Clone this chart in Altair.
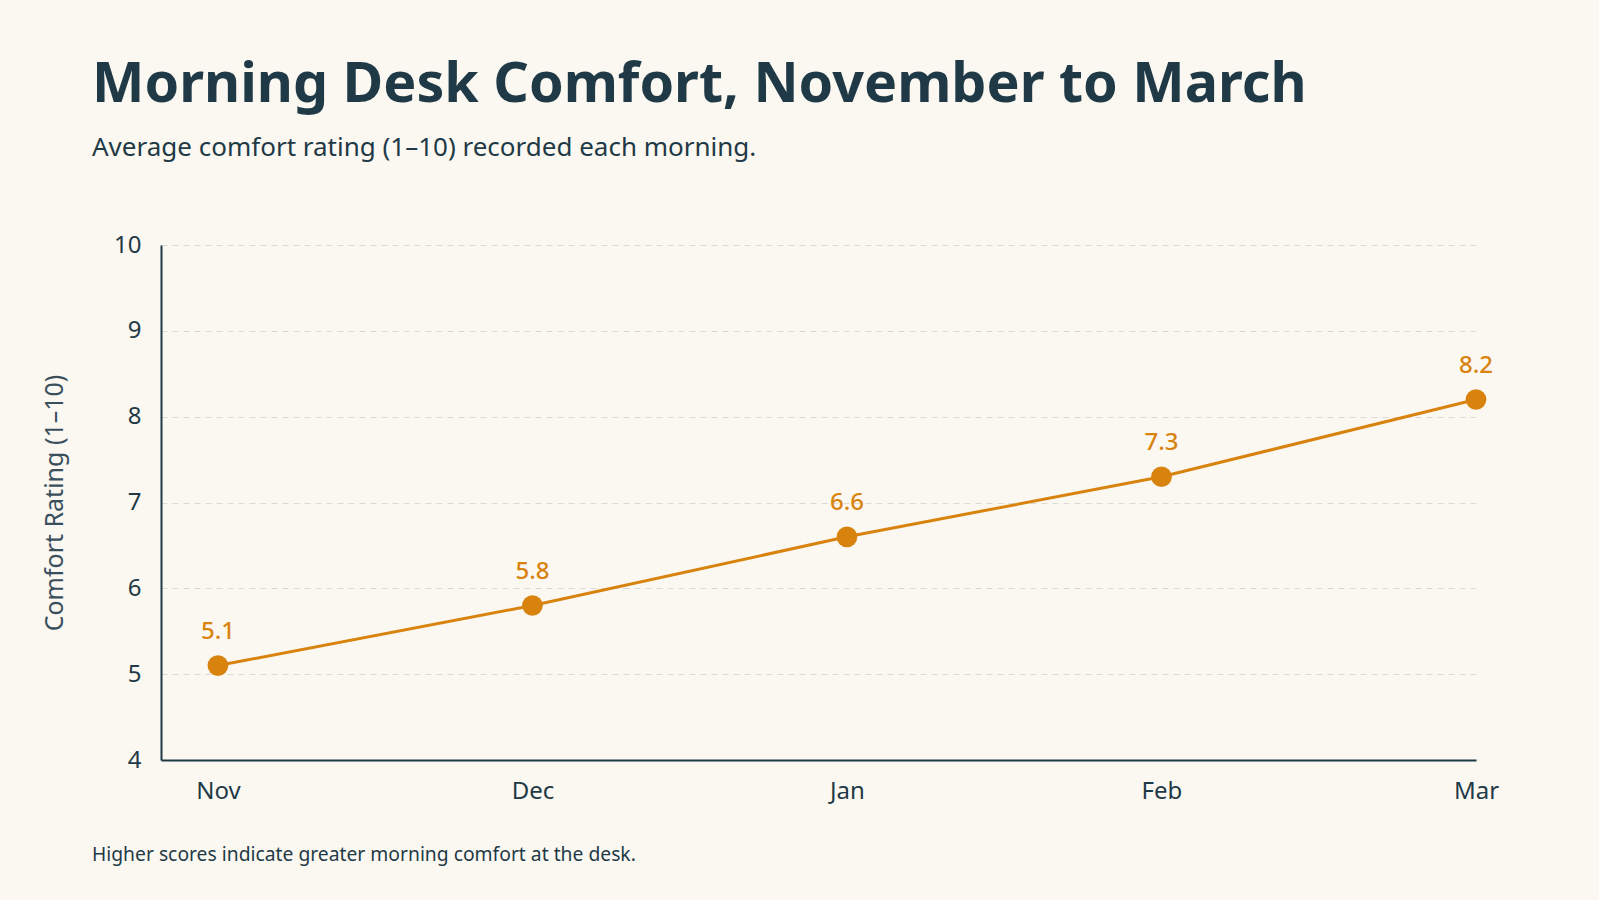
import json
import altair as alt
import pandas as pd

months = ["Nov", "Dec", "Jan", "Feb", "Mar"]
ratings = [5.1, 5.8, 6.6, 7.3, 8.2]
y_ticks = [4, 5, 6, 7, 8, 9, 10]

title_text = "Morning Desk Comfort, November to March"
subtitle_text = "Average comfort rating (1\u201310) recorded each morning."
footer_text = "Higher scores indicate greater morning comfort at the desk."
y_title = "Comfort Rating (1\u201310)"

df = pd.DataFrame({"month": months, "idx": list(range(len(months))), "rating": ratings})

FONT = "Noto Sans"
DARK = "#1f3a46"
ORANGE = "#D9830F"
BG = "#FBF8F2"

W, H = 1315, 515

label_expr = json.dumps(months) + "[datum.value]"

x_enc = alt.X("idx:Q",
              scale=alt.Scale(domain=[-0.181, len(months) - 1], nice=False, zero=False),
              axis=alt.Axis(title=None, values=list(range(len(months))), labelExpr=label_expr,
                            labelAngle=0, labelFontSize=24, labelColor=DARK,
                            labelFont=FONT, labelPadding=19, ticks=False, domainColor=DARK,
                            domainWidth=2, grid=False, labelFlush=False, labelOverlap=False))
y_enc = alt.Y("rating:Q", scale=alt.Scale(domain=[4, 10]),
              axis=alt.Axis(title=y_title, values=y_ticks, titleFontSize=25, titleFont=FONT,
                            titleFontWeight="normal", titleColor="#3a4f5c", titlePadding=46,
                            labelFontSize=24, labelColor=DARK, labelFont=FONT, labelPadding=20,
                            ticks=False, domainColor=DARK, domainWidth=2,
                            grid=True, gridColor="#dcdad4", gridDash=[6, 5], gridWidth=1))

base = alt.Chart(df)

line = base.mark_line(color=ORANGE, strokeWidth=3).encode(x=x_enc, y=y_enc)
pts = base.mark_circle(color=ORANGE, size=430, opacity=1).encode(x=x_enc, y=y_enc)
labels = base.mark_text(color=ORANGE, fontSize=24, fontWeight=500, font=FONT, dy=-34).encode(
    x=x_enc, y=y_enc, text=alt.Text("rating:Q", format=".1f"))

footer = alt.Chart(pd.DataFrame({"t": [footer_text]})).mark_text(
    align="left", baseline="middle", fontSize=19.3, font=FONT, color=DARK
).encode(x=alt.value(-69), y=alt.value(H + 95), text="t:N")

chart = alt.layer(line, pts, labels, footer).properties(
    width=W, height=H,
    autosize=alt.AutoSizeParams(type="none"),
    padding={"left": 161, "top": 245, "right": 123, "bottom": 140},
    background=BG,
    title=alt.TitleParams(
        text=title_text, subtitle=subtitle_text, anchor="start", frame="group", dx=-69,
        font=FONT, fontSize=55.6, fontWeight="bold", color=DARK,
        subtitleFont=FONT, subtitleFontSize=26, subtitleColor=DARK,
        subtitlePadding=21, offset=72,
    ),
).configure_view(stroke=None)

chart.save("out.html", embed_options={"renderer": "svg", "actions": False})
